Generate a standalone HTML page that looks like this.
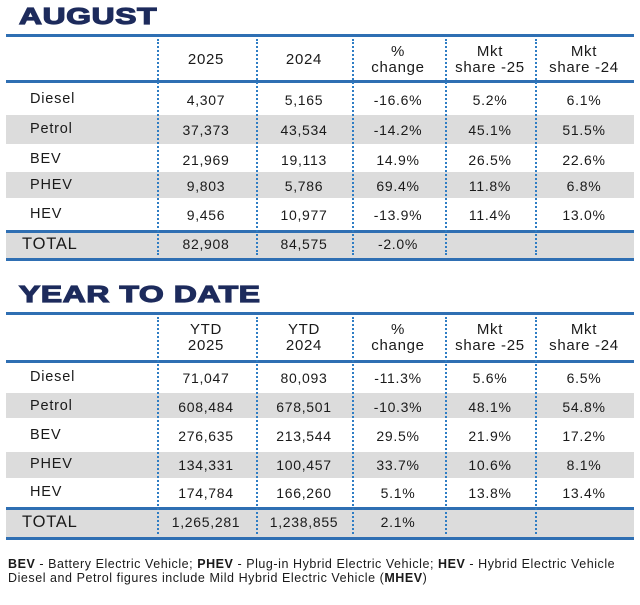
<!DOCTYPE html>
<html><head><meta charset="utf-8"><style>
body{margin:0;width:640px;height:605px;background:#fff;position:relative;overflow:hidden;font-family:"Liberation Sans",Arial,sans-serif;color:#1a1a1a}
.a{position:absolute}
.t{font-weight:900;color:#1d2b5c;font-size:23px;letter-spacing:0.5px;transform:scaleX(1.38);transform-origin:left center;-webkit-text-stroke:1.2px #1d2b5c}
.hl{position:absolute;left:6px;width:628px;height:3px;background:#2f6fb3}
.band{position:absolute;left:6px;width:628px;background:#dcdcdc}
.dl{position:absolute;width:2px;border-left:2px dotted #2f7dc4}
.c{position:absolute;width:110px;margin-left:-55px;text-align:center;font-size:14px;line-height:16px;letter-spacing:0.7px}
.l{position:absolute;font-size:14.5px;letter-spacing:0.8px}
.foot{position:absolute;left:8px;font-size:12.5px;letter-spacing:0.55px}
</style></head><body>
<div class="a t" style="left:19px;top:3px">AUGUST</div>
<div class="a t" style="left:19px;top:281px">YEAR TO DATE</div>
<div id="root"></div>
<div class="foot" style="top:557px"><b>BEV</b> - Battery Electric Vehicle; <b>PHEV</b> - Plug-in Hybrid Electric Vehicle; <b>HEV</b> - Hybrid Electric Vehicle</div>
<div class="foot" style="top:571px">Diesel and Petrol figures include Mild Hybrid Electric Vehicle (<b>MHEV</b>)</div>
<script>
var R=document.getElementById('root'),h='';
function T(o){
 var top=o.top;
 h+='<div class="band" style="top:'+o.bands[0][0]+'px;height:'+(o.bands[0][1]-o.bands[0][0])+'px"></div>';
 h+='<div class="band" style="top:'+o.bands[1][0]+'px;height:'+(o.bands[1][1]-o.bands[1][0])+'px"></div>';
 h+='<div class="band" style="top:'+o.tot[0]+'px;height:'+(o.tot[1]-o.tot[0])+'px"></div>';
 h+='<div class="hl" style="top:'+top+'px"></div>';
 h+='<div class="hl" style="top:'+o.hb+'px"></div>';
 h+='<div class="hl" style="top:'+(o.tot[0]-1)+'px"></div>';
 h+='<div class="hl" style="top:'+o.tot[1]+'px"></div>';
 [157,256,352,445,535].forEach(function(x){h+='<div class="dl" style="left:'+x+'px;top:'+(top+5)+'px;height:'+(o.tot[1]-top-8)+'px"></div>';});
 var xs=[206,304,398,490,584];
 o.head.forEach(function(s,i){h+='<div class="c" style="left:'+xs[i]+'px;top:'+(s.indexOf('<br>')>0?o.hy-16:o.hy-8)+'px;font-size:15px">'+s+'</div>';});
 o.rows.forEach(function(r,j){
  var y=o.ys[j];
  h+='<div class="l" style="left:'+(j==5?22:30)+'px;top:'+(y-9)+'px;'+(j==5?'font-size:16.5px':'')+'">'+r[0]+'</div>';
  for(var i=1;i<r.length;i++)h+='<div class="c" style="left:'+xs[i-1]+'px;top:'+(y-8)+'px">'+r[i]+'</div>';
 });
}
T({top:34,hb:80,hy:60,bands:[[115,144],[172,198]],tot:[231,258],
 head:['2025','2024','%<br>change','Mkt<br>share -25','Mkt<br>share -24'],
 ys:[100,130,160,186,215,244],
 rows:[['Diesel','4,307','5,165','-16.6%','5.2%','6.1%'],['Petrol','37,373','43,534','-14.2%','45.1%','51.5%'],['BEV','21,969','19,113','14.9%','26.5%','22.6%'],['PHEV','9,803','5,786','69.4%','11.8%','6.8%'],['HEV','9,456','10,977','-13.9%','11.4%','13.0%'],['TOTAL','82,908','84,575','-2.0%','','']]});
T({top:312,hb:360,hy:338,bands:[[393,418],[452,478]],tot:[508,537],
 head:['YTD<br>2025','YTD<br>2024','%<br>change','Mkt<br>share -25','Mkt<br>share -24'],
 ys:[378,407,436,465,493,522],
 rows:[['Diesel','71,047','80,093','-11.3%','5.6%','6.5%'],['Petrol','608,484','678,501','-10.3%','48.1%','54.8%'],['BEV','276,635','213,544','29.5%','21.9%','17.2%'],['PHEV','134,331','100,457','33.7%','10.6%','8.1%'],['HEV','174,784','166,260','5.1%','13.8%','13.4%'],['TOTAL','1,265,281','1,238,855','2.1%','','']]});
R.innerHTML=h;
</script>
</body></html>
